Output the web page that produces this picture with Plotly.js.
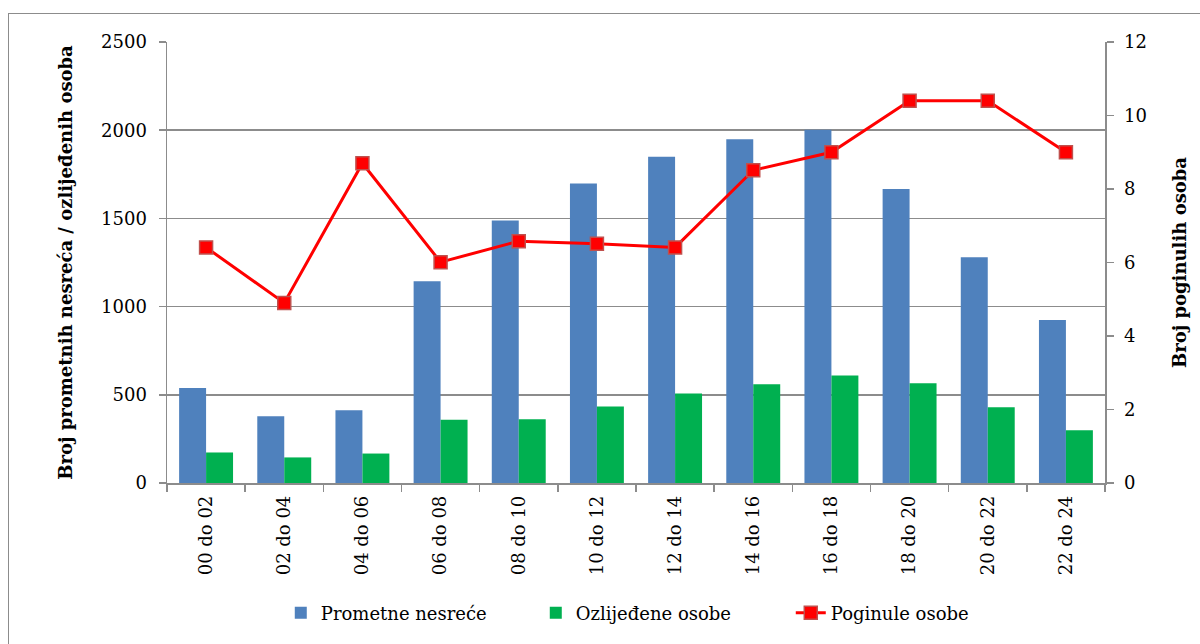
<!DOCTYPE html>
<html>
<head>
<meta charset="utf-8">
<script src="https://cdn.plot.ly/plotly-3.0.1.min.js"></script>
<style>
  html, body { margin: 0; padding: 0; background: #fff; }
  #wrap { position: relative; width: 1200px; height: 644px; overflow: hidden; }
  #frame { position: absolute; left: 8px; top: 13px; width: 1300px; height: 700px; border: 1.5px solid #8c8c8c; box-sizing: border-box; pointer-events: none; }
  #chart { position: absolute; left: 0; top: 0; width: 1200px; height: 644px; }
</style>
</head>
<body>
<div id="wrap">
  <div id="chart"></div>
  <div id="frame"></div>
</div>
<script>
const categories = ["00 do 02","02 do 04","04 do 06","06 do 08","08 do 10","10 do 12","12 do 14","14 do 16","16 do 18","18 do 20","20 do 22","22 do 24"];
const prometneNesrece = [539, 379, 413, 1143, 1488, 1698, 1849, 1949, 2003, 1667, 1280, 924];
const ozlijedeneOsobe = [173, 145, 167, 359, 362, 434, 507, 560, 609, 565, 430, 299];
const poginuleOsobe = [6.41, 4.9, 8.7, 6.01, 6.58, 6.51, 6.41, 8.51, 9.0, 10.4, 10.4, 9.0];
const leftTicks = [0, 500, 1000, 1500, 2000, 2500];
const rightTicks = [0, 2, 4, 6, 8, 10, 12];

const FONT = "DejaVu Serif, Liberation Serif, serif";
const FS = 18;

const traces = [
  { type: "bar", name: "Prometne nesreće", x: categories, y: prometneNesrece,
    marker: { color: "#4f81bd" }, yaxis: "y" },
  { type: "bar", name: "Ozlijeđene osobe", x: categories, y: ozlijedeneOsobe,
    marker: { color: "#00b050" }, yaxis: "y" },
  { type: "scatter", mode: "lines+markers", name: "Poginule osobe", x: categories, y: poginuleOsobe,
    yaxis: "y2",
    line: { color: "#ff0000", width: 3 },
    marker: { symbol: "square", size: 13, color: "#ff0000", line: { color: "#c0504d", width: 1.5 } } }
];

const layout = {
  width: 1200, height: 644,
  margin: { l: 167, r: 95, t: 42, b: 158 },
  paper_bgcolor: "#ffffff", plot_bgcolor: "#ffffff",
  font: { family: FONT, size: FS, color: "#000" },
  barmode: "group", bargap: 0.31, bargroupgap: 0,
  showlegend: true,
  legend: { orientation: "h", x: 0.1213, xanchor: "left", y: -0.295, yanchor: "middle",
            entrywidth: 210, entrywidthmode: "pixels",
            font: { family: FONT, size: FS }, tracegroupgap: 0, traceorder: "normal" },
  xaxis: {
    type: "category", range: [-0.5, 11.5], tickangle: -90, showline: true, linecolor: "#8c8c8c", linewidth: 1.5,
    ticks: "outside", tickson: "boundaries", ticklen: 7, tickcolor: "#8c8c8c", tickwidth: 1.5,
    ticklabelstandoff: 4,
    showgrid: false, tickfont: { family: FONT, size: FS }, automargin: false
  },
  yaxis: {
    range: [0, 2500], tickvals: leftTicks, ticktext: leftTicks.map(String),
    showline: true, linecolor: "#8c8c8c", linewidth: 1.5,
    ticks: "outside", ticklen: 7, tickcolor: "#8c8c8c", tickwidth: 1.5,
    ticklabelstandoff: 8,
    showgrid: true, gridcolor: "#8c8c8c", gridwidth: 1.5, zeroline: false,
    tickfont: { family: FONT, size: FS }, automargin: false,
    title: { text: "<b>Broj prometnih nesreća / ozlijeđenih osoba</b>", font: { family: FONT, size: FS }, standoff: 24 }
  },
  yaxis2: {
    overlaying: "y", side: "right", range: [0, 12], tickvals: rightTicks, ticktext: rightTicks.map(String),
    showline: true, linecolor: "#8c8c8c", linewidth: 1.5,
    ticks: "outside", ticklen: 7, tickcolor: "#8c8c8c", tickwidth: 1.5,
    ticklabelstandoff: 7,
    showgrid: false, zeroline: false,
    tickfont: { family: FONT, size: FS }, automargin: false,
    title: { text: "<b>Broj poginulih osoba</b>", font: { family: FONT, size: FS }, standoff: 27 }
  }
};

Plotly.newPlot("chart", traces, layout, { displayModeBar: false, staticPlot: true });
</script>
</body>
</html>
